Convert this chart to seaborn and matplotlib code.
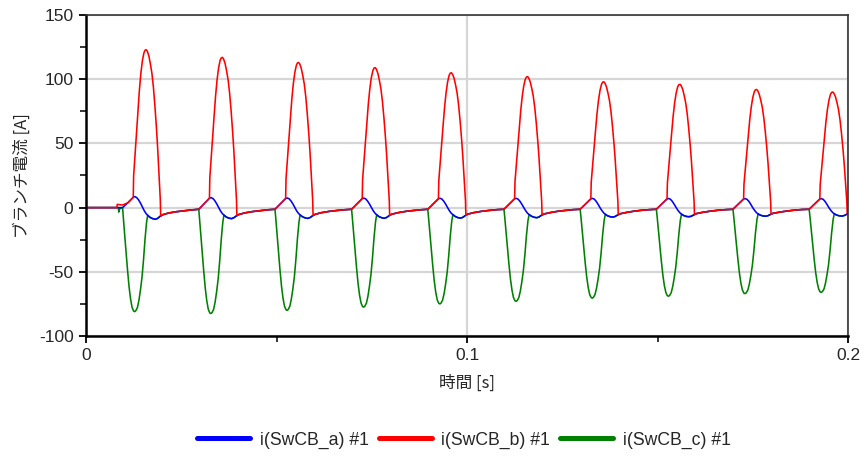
import numpy as np
import pandas as pd
import matplotlib
matplotlib.use("Agg")
import matplotlib.pyplot as plt
from matplotlib.lines import Line2D
from matplotlib.ticker import MultipleLocator
import seaborn as sns

# ---------------- data ----------------
# time in milliseconds, current in A
t_a_ms = [
    0.0, 8.2,
    9.6, 11.0, 12.4, 12.8, 13.3, 13.8, 14.3, 14.8, 15.3, 15.8, 16.2, 16.8, 17.5, 18.2, 18.8, 19.4, 20.1, 21.7, 23.7, 25.7, 27.7,
    29.6, 31.0, 32.4, 32.8, 33.3, 33.8, 34.3, 34.8, 35.3, 35.8, 36.2, 36.8, 37.5, 38.2, 38.8, 39.4, 40.1, 41.7, 43.7, 45.7, 47.7,
    49.6, 51.0, 52.4, 52.8, 53.3, 53.8, 54.3, 54.8, 55.3, 55.8, 56.2, 56.8, 57.5, 58.2, 58.8, 59.4, 60.1, 61.7, 63.7, 65.7, 67.7,
    69.7, 71.1, 72.5, 72.9, 73.4, 73.9, 74.4, 74.9, 75.4, 75.9, 76.3, 76.9, 77.6, 78.3, 78.9, 79.5, 80.2, 81.8, 83.8, 85.8, 87.8,
    89.7, 91.1, 92.5, 92.9, 93.4, 93.9, 94.4, 94.9, 95.4, 95.9, 96.3, 96.9, 97.6, 98.3, 98.9, 99.5, 100.2, 101.8, 103.8, 105.8, 107.8,
    109.7, 111.1, 112.5, 112.9, 113.4, 113.9, 114.4, 114.9, 115.4, 115.9, 116.3, 116.9, 117.6, 118.3, 118.9, 119.5, 120.2, 121.8, 123.8, 125.8, 127.8,
    129.7, 131.1, 132.5, 132.9, 133.4, 133.9, 134.4, 134.9, 135.4, 135.9, 136.3, 136.9, 137.6, 138.3, 138.9, 139.5, 140.2, 141.8, 143.8, 145.8, 147.8,
    149.7, 151.1, 152.5, 152.9, 153.4, 153.9, 154.4, 154.9, 155.4, 155.9, 156.3, 156.9, 157.6, 158.3, 158.9, 159.5, 160.2, 161.8, 163.8, 165.8, 167.8,
    169.8, 171.2, 172.6, 173.0, 173.5, 174.0, 174.5, 175.0, 175.5, 176.0, 176.4, 177.0, 177.7, 178.4, 179.0, 179.6, 180.3, 181.9, 183.9, 185.9, 187.9,
    189.8, 191.2, 192.6, 193.0, 193.5, 194.0, 194.5, 195.0, 195.5, 196.0, 196.4, 197.0, 197.7, 198.4, 199.0, 199.6, 200.3,
]
i_a = [
    0.0, 0.0,
    0.0, 3.8, 8.0, 8.6, 7.8, 6.0, 3.5, 0.5, -2.5, -4.8, -6.0, -7.6, -8.6, -9.1, -8.4, -6.9, -5.6, -4.2, -3.2, -2.5, -1.8,
    -1.3, 3.0, 7.3, 7.8, 7.1, 5.4, 3.0, 0.2, -2.6, -4.7, -5.8, -7.3, -8.2, -8.6, -7.9, -6.6, -5.4, -4.1, -3.1, -2.4, -1.7,
    -1.3, 2.9, 7.1, 7.5, 6.9, 5.2, 2.9, 0.1, -2.6, -4.6, -5.7, -7.1, -8.0, -8.4, -7.8, -6.5, -5.3, -4.0, -3.0, -2.3, -1.7,
    -1.3, 2.9, 7.0, 7.4, 6.8, 5.1, 2.8, 0.1, -2.5, -4.5, -5.6, -7.0, -7.9, -8.3, -7.7, -6.4, -5.2, -4.0, -3.0, -2.3, -1.7,
    -1.3, 2.8, 6.9, 7.3, 6.7, 5.0, 2.7, 0.0, -2.5, -4.5, -5.5, -6.9, -7.8, -8.2, -7.6, -6.3, -5.1, -3.9, -2.9, -2.2, -1.6,
    -1.3, 2.8, 6.9, 7.2, 6.6, 4.9, 2.6, 0.0, -2.4, -4.4, -5.4, -6.7, -7.5, -7.9, -7.3, -6.1, -5.0, -3.9, -2.9, -2.2, -1.6,
    -1.3, 2.8, 6.8, 7.2, 6.6, 4.9, 2.6, 0.0, -2.3, -4.2, -5.2, -6.4, -7.1, -7.4, -6.9, -5.8, -4.8, -3.8, -2.8, -2.1, -1.6,
    -1.3, 2.8, 6.8, 7.1, 6.5, 4.8, 2.5, 0.0, -2.3, -4.1, -5.1, -6.2, -6.9, -7.1, -6.7, -5.7, -4.7, -3.7, -2.8, -2.1, -1.6,
    -1.3, 2.7, 6.7, 7.0, 6.4, 4.8, 2.5, -0.1, -2.2, -4.0, -4.9, -5.9, -6.5, -6.7, -6.3, -5.4, -4.5, -3.6, -2.7, -2.0, -1.5,
    -1.3, 2.7, 6.7, 7.0, 6.4, 4.7, 2.4, -0.1, -2.2, -3.9, -4.8, -5.8, -6.4, -6.6, -6.2, -5.3, -4.5,
]

t_b_ms = [
    0.0, 8.1, 8.2,
    9.6, 11.0, 12.4, 12.5, 12.8, 13.2, 13.6, 14.0, 14.4, 14.8, 15.2, 15.5, 15.8, 16.1, 16.5, 16.9, 17.3, 17.7, 18.1, 18.5, 18.8, 19.1, 19.3, 19.5, 19.6, 20.1, 21.7, 23.7, 25.7, 27.7,
    29.6, 31.0, 32.4, 32.5, 32.8, 33.2, 33.6, 34.0, 34.4, 34.8, 35.2, 35.5, 35.8, 36.1, 36.5, 36.9, 37.3, 37.7, 38.1, 38.5, 38.8, 39.1, 39.3, 39.5, 39.6, 40.1, 41.7, 43.7, 45.7, 47.7,
    49.6, 51.0, 52.4, 52.5, 52.8, 53.2, 53.6, 54.0, 54.4, 54.8, 55.2, 55.5, 55.8, 56.1, 56.5, 56.9, 57.3, 57.7, 58.1, 58.5, 58.8, 59.1, 59.3, 59.5, 59.6, 60.1, 61.7, 63.7, 65.7, 67.7,
    69.7, 71.1, 72.5, 72.6, 72.9, 73.3, 73.7, 74.1, 74.5, 74.9, 75.3, 75.6, 75.9, 76.2, 76.6, 77.0, 77.4, 77.8, 78.2, 78.6, 78.9, 79.2, 79.4, 79.6, 79.7, 80.2, 81.8, 83.8, 85.8, 87.8,
    89.7, 91.1, 92.5, 92.6, 92.9, 93.3, 93.7, 94.1, 94.5, 94.9, 95.3, 95.6, 95.9, 96.2, 96.6, 97.0, 97.4, 97.8, 98.2, 98.6, 98.9, 99.2, 99.4, 99.6, 99.7, 100.2, 101.8, 103.8, 105.8, 107.8,
    109.7, 111.1, 112.5, 112.6, 112.9, 113.3, 113.7, 114.1, 114.5, 114.9, 115.3, 115.6, 115.9, 116.2, 116.6, 117.0, 117.4, 117.8, 118.2, 118.6, 118.9, 119.2, 119.4, 119.6, 119.7, 120.2, 121.8, 123.8, 125.8, 127.8,
    129.7, 131.1, 132.5, 132.6, 132.9, 133.3, 133.7, 134.1, 134.5, 134.9, 135.3, 135.6, 135.9, 136.2, 136.6, 137.0, 137.4, 137.8, 138.2, 138.6, 138.9, 139.2, 139.4, 139.6, 139.7, 140.2, 141.8, 143.8, 145.8, 147.8,
    149.7, 151.1, 152.5, 152.6, 152.9, 153.3, 153.7, 154.1, 154.5, 154.9, 155.3, 155.6, 155.9, 156.2, 156.6, 157.0, 157.4, 157.8, 158.2, 158.6, 158.9, 159.2, 159.4, 159.6, 159.7, 160.2, 161.8, 163.8, 165.8, 167.8,
    169.8, 171.2, 172.6, 172.7, 173.0, 173.4, 173.8, 174.2, 174.6, 175.0, 175.4, 175.7, 176.0, 176.3, 176.7, 177.1, 177.5, 177.9, 178.3, 178.7, 179.0, 179.3, 179.5, 179.7, 179.8, 180.3, 181.9, 183.9, 185.9, 187.9,
    189.8, 191.2, 192.6, 192.7, 193.0, 193.4, 193.8, 194.2, 194.6, 195.0, 195.4, 195.7, 196.0, 196.3, 196.7, 197.1, 197.5, 197.9, 198.3, 198.7, 199.0, 199.3, 199.5, 199.7, 199.8, 200.3,
]
i_b = [
    0.0, 0.0, 2.5,
    2.0, 3.8, 8.0, 24.6, 38.1, 55.4, 73.8, 91.0, 104.6, 114.4, 120.5, 122.6, 123.0, 121.8, 118.1, 111.9, 104.6, 93.5, 78.7, 61.5, 46.7, 29.5, 17.2, 6.2, -6.5, -5.6, -4.2, -3.2, -2.5, -1.8,
    -1.3, 3.0, 7.3, 23.4, 36.3, 52.7, 70.2, 86.6, 99.5, 108.8, 114.7, 116.6, 117.0, 115.8, 112.3, 106.5, 99.5, 88.9, 74.9, 58.5, 44.5, 28.1, 16.4, 5.9, -6.2, -5.4, -4.1, -3.1, -2.4, -1.7,
    -1.3, 2.9, 7.1, 22.6, 35.0, 50.9, 67.8, 83.6, 96.1, 105.1, 110.7, 112.7, 113.0, 111.9, 108.5, 102.8, 96.1, 85.9, 72.3, 56.5, 42.9, 27.1, 15.8, 5.7, -6.1, -5.3, -4.0, -3.0, -2.3, -1.7,
    -1.3, 2.9, 7.0, 21.8, 33.8, 49.1, 65.4, 80.7, 92.7, 101.4, 106.8, 108.7, 109.0, 107.9, 104.6, 99.2, 92.7, 82.8, 69.8, 54.5, 41.4, 26.2, 15.3, 5.5, -6.0, -5.2, -4.0, -3.0, -2.3, -1.7,
    -1.3, 2.8, 6.9, 21.0, 32.6, 47.3, 63.0, 77.7, 89.3, 97.7, 102.9, 104.7, 105.0, 104.0, 100.8, 95.6, 89.3, 79.8, 67.2, 52.5, 39.9, 25.2, 14.7, 5.3, -5.9, -5.1, -3.9, -2.9, -2.2, -1.6,
    -1.3, 2.8, 6.9, 20.4, 31.6, 45.9, 61.2, 75.5, 86.7, 94.9, 100.0, 101.7, 102.0, 101.0, 97.9, 92.8, 86.7, 77.5, 65.3, 51.0, 38.8, 24.5, 14.3, 5.1, -5.8, -5.0, -3.9, -2.9, -2.2, -1.6,
    -1.3, 2.8, 6.8, 19.6, 30.4, 44.1, 58.8, 72.5, 83.3, 91.1, 96.0, 97.7, 98.0, 97.0, 94.1, 89.2, 83.3, 74.5, 62.7, 49.0, 37.2, 23.5, 13.7, 4.9, -5.5, -4.8, -3.8, -2.8, -2.1, -1.6,
    -1.3, 2.8, 6.8, 19.2, 29.8, 43.2, 57.6, 71.0, 81.6, 89.3, 94.1, 95.7, 96.0, 95.0, 92.2, 87.4, 81.6, 73.0, 61.4, 48.0, 36.5, 23.0, 13.4, 4.8, -5.4, -4.7, -3.7, -2.8, -2.1, -1.6,
    -1.3, 2.7, 6.7, 18.4, 28.5, 41.4, 55.2, 68.1, 78.2, 85.6, 90.2, 91.7, 92.0, 91.1, 88.3, 83.7, 78.2, 69.9, 58.9, 46.0, 35.0, 22.1, 12.9, 4.6, -5.2, -4.5, -3.6, -2.7, -2.0, -1.5,
    -1.3, 2.7, 6.7, 18.0, 27.9, 40.5, 54.0, 66.6, 76.5, 83.7, 88.2, 89.7, 90.0, 89.1, 86.4, 81.9, 76.5, 68.4, 57.6, 45.0, 34.2, 21.6, 12.6, 4.5, -5.1, -4.5,
]

t_c_ms = [
    0.0, 8.5, 8.6, 8.8,
    9.6, 9.8, 10.1, 10.5, 10.9, 11.3, 11.7, 12.1, 12.5, 12.8, 13.1, 13.5, 13.9, 14.3, 14.7, 15.1, 15.5, 15.9, 16.2, 16.8, 17.5, 18.2, 18.8, 19.4, 20.1, 21.7, 23.7, 25.7, 27.7,
    29.6, 29.8, 30.1, 30.5, 30.9, 31.3, 31.7, 32.1, 32.5, 32.8, 33.1, 33.5, 33.9, 34.3, 34.7, 35.1, 35.5, 35.9, 36.2, 36.8, 37.5, 38.2, 38.8, 39.4, 40.1, 41.7, 43.7, 45.7, 47.7,
    49.6, 49.8, 50.1, 50.5, 50.9, 51.3, 51.7, 52.1, 52.5, 52.8, 53.1, 53.5, 53.9, 54.3, 54.7, 55.1, 55.5, 55.9, 56.2, 56.8, 57.5, 58.2, 58.8, 59.4, 60.1, 61.7, 63.7, 65.7, 67.7,
    69.7, 69.9, 70.2, 70.6, 71.0, 71.4, 71.8, 72.2, 72.6, 72.9, 73.2, 73.6, 74.0, 74.4, 74.8, 75.2, 75.6, 76.0, 76.3, 76.9, 77.6, 78.3, 78.9, 79.5, 80.2, 81.8, 83.8, 85.8, 87.8,
    89.7, 89.9, 90.2, 90.6, 91.0, 91.4, 91.8, 92.2, 92.6, 92.9, 93.2, 93.6, 94.0, 94.4, 94.8, 95.2, 95.6, 96.0, 96.3, 96.9, 97.6, 98.3, 98.9, 99.5, 100.2, 101.8, 103.8, 105.8, 107.8,
    109.7, 109.9, 110.2, 110.6, 111.0, 111.4, 111.8, 112.2, 112.6, 112.9, 113.2, 113.6, 114.0, 114.4, 114.8, 115.2, 115.6, 116.0, 116.3, 116.9, 117.6, 118.3, 118.9, 119.5, 120.2, 121.8, 123.8, 125.8, 127.8,
    129.7, 129.9, 130.2, 130.6, 131.0, 131.4, 131.8, 132.2, 132.6, 132.9, 133.2, 133.6, 134.0, 134.4, 134.8, 135.2, 135.6, 136.0, 136.3, 136.9, 137.6, 138.3, 138.9, 139.5, 140.2, 141.8, 143.8, 145.8, 147.8,
    149.7, 149.9, 150.2, 150.6, 151.0, 151.4, 151.8, 152.2, 152.6, 152.9, 153.2, 153.6, 154.0, 154.4, 154.8, 155.2, 155.6, 156.0, 156.3, 156.9, 157.6, 158.3, 158.9, 159.5, 160.2, 161.8, 163.8, 165.8, 167.8,
    169.8, 170.0, 170.3, 170.7, 171.1, 171.5, 171.9, 172.3, 172.7, 173.0, 173.3, 173.7, 174.1, 174.5, 174.9, 175.3, 175.7, 176.1, 176.4, 177.0, 177.7, 178.4, 179.0, 179.6, 180.3, 181.9, 183.9, 185.9, 187.9,
    189.8, 190.0, 190.3, 190.7, 191.1, 191.5, 191.9, 192.3, 192.7, 193.0, 193.3, 193.7, 194.1, 194.5, 194.9, 195.3, 195.7, 196.1, 196.4, 197.0, 197.7, 198.4, 199.0, 199.6, 200.3,
]
i_c = [
    0.0, 0.0, -3.5, -1.0,
    0.0, -8.1, -19.4, -34.0, -48.6, -61.6, -71.3, -77.8, -80.6, -81.0, -80.2, -77.8, -72.1, -64.0, -54.3, -40.5, -24.3, -11.3, -6.0, -7.6, -8.6, -9.1, -8.4, -6.9, -5.6, -4.2, -3.2, -2.5, -1.8,
    -1.3, -8.3, -19.8, -34.7, -49.5, -62.7, -72.6, -79.2, -82.1, -82.5, -81.7, -79.2, -73.4, -65.2, -55.3, -41.3, -24.8, -11.6, -5.8, -7.3, -8.2, -8.6, -7.9, -6.6, -5.4, -4.1, -3.1, -2.4, -1.7,
    -1.3, -8.0, -19.2, -33.6, -48.0, -60.8, -70.4, -76.8, -79.6, -80.0, -79.2, -76.8, -71.2, -63.2, -53.6, -40.0, -24.0, -11.2, -5.7, -7.1, -8.0, -8.4, -7.8, -6.5, -5.3, -4.0, -3.0, -2.3, -1.7,
    -1.3, -7.8, -18.6, -32.6, -46.5, -58.9, -68.2, -74.4, -77.1, -77.5, -76.7, -74.4, -69.0, -61.2, -51.9, -38.8, -23.3, -10.9, -5.6, -7.0, -7.9, -8.3, -7.7, -6.4, -5.2, -4.0, -3.0, -2.3, -1.7,
    -1.3, -7.5, -18.0, -31.5, -45.0, -57.0, -66.0, -72.0, -74.6, -75.0, -74.3, -72.0, -66.8, -59.3, -50.3, -37.5, -22.5, -10.5, -5.5, -6.9, -7.8, -8.2, -7.6, -6.3, -5.1, -3.9, -2.9, -2.2, -1.6,
    -1.3, -7.3, -17.5, -30.7, -43.8, -55.5, -64.2, -70.1, -72.6, -73.0, -72.3, -70.1, -65.0, -57.7, -48.9, -36.5, -21.9, -10.2, -5.4, -6.7, -7.5, -7.9, -7.3, -6.1, -5.0, -3.9, -2.9, -2.2, -1.6,
    -1.3, -7.1, -16.9, -29.6, -42.3, -53.6, -62.0, -67.7, -70.1, -70.5, -69.8, -67.7, -62.7, -55.7, -47.2, -35.3, -21.2, -9.9, -5.2, -6.4, -7.1, -7.4, -6.9, -5.8, -4.8, -3.8, -2.8, -2.1, -1.6,
    -1.3, -6.9, -16.6, -29.0, -41.4, -52.4, -60.7, -66.2, -68.7, -69.0, -68.3, -66.2, -61.4, -54.5, -46.2, -34.5, -20.7, -9.7, -5.1, -6.2, -6.9, -7.1, -6.7, -5.7, -4.7, -3.7, -2.8, -2.1, -1.6,
    -1.3, -6.7, -16.1, -28.1, -40.2, -50.9, -59.0, -64.3, -66.7, -67.0, -66.3, -64.3, -59.6, -52.9, -44.9, -33.5, -20.1, -9.4, -4.9, -5.9, -6.5, -6.7, -6.3, -5.4, -4.5, -3.6, -2.7, -2.0, -1.5,
    -1.3, -6.6, -15.8, -27.7, -39.6, -50.2, -58.1, -63.4, -65.7, -66.0, -65.3, -63.4, -58.7, -52.1, -44.2, -33.0, -19.8, -9.2, -4.8, -5.8, -6.4, -6.6, -6.2, -5.3, -4.5,
]

series_labels = ["i(SwCB_a) #1", "i(SwCB_b) #1", "i(SwCB_c) #1"]
series_colors = ["#0000ff", "#ff0000", "#008000"]
x_ticks = [0.0, 0.1, 0.2]
x_ticklabels = ["0", "0.1", "0.2"]
y_ticks = [-100, -50, 0, 50, 100, 150]
x_label = "時間 [s]"
y_label = "ブランチ電流 [A]"

# ---------------- style ----------------
sns.set_style("white")
plt.rcParams["font.family"] = ["Liberation Sans", "DejaVu Sans"]
plt.rcParams["axes.unicode_minus"] = False
cjk = ["Noto Sans CJK JP", "Liberation Sans", "DejaVu Sans"]

fig = plt.figure(figsize=(8.66, 4.59), dpi=100)
ax = fig.add_axes([86 / 866, 1 - 336 / 459, 762 / 866, 321 / 459])

frames = [
    pd.DataFrame({"t": np.array(t_a_ms) / 1000.0, "v": i_a}),
    pd.DataFrame({"t": np.array(t_b_ms) / 1000.0, "v": i_b}),
    pd.DataFrame({"t": np.array(t_c_ms) / 1000.0, "v": i_c}),
]
zorders = [2.3, 2.4, 2.2]
for df, col, z in zip(frames, series_colors, zorders):
    sns.lineplot(data=df, x="t", y="v", ax=ax, color=col, lw=1.15,
                 estimator=None, sort=False, zorder=z)

ax.set_xlim(0, 0.2)
ax.set_ylim(-100, 150)
ax.set_xticks(x_ticks)
ax.set_xticklabels(x_ticklabels)
ax.set_yticks(y_ticks)
ax.xaxis.set_minor_locator(MultipleLocator(0.05))
ax.yaxis.set_minor_locator(MultipleLocator(25))

ax.grid(True, which="major", color="#d6d6d6", lw=1.6)
ax.set_axisbelow(True)

ax.tick_params(axis="both", which="major", direction="out", length=5, width=1.3,
               color="black", labelsize=12.5, pad=4, left=True, bottom=True)
ax.tick_params(axis="both", which="minor", direction="out", length=4, width=1.1,
               color="black", left=True, bottom=True)

for side in ["left", "bottom"]:
    ax.spines[side].set_color("black")
    ax.spines[side].set_linewidth(1.8)
for side in ["top", "right"]:
    ax.spines[side].set_color("#333333")
    ax.spines[side].set_linewidth(1.2)
    ax.spines[side].set_visible(True)

ax.set_xlabel(x_label, fontsize=12, family=cjk)
ax.set_ylabel(y_label, fontsize=12, family=cjk)
ax.xaxis.set_label_coords(0.5, -0.12)
ax.yaxis.set_label_coords(-0.072, 0.5)

handles = [Line2D([0], [0], color=c, lw=3.6, solid_capstyle="round") for c in series_colors]
fig.legend(handles, series_labels, loc="center", bbox_to_anchor=(464 / 866, 1 - 440 / 459),
           ncol=3, frameon=False, fontsize=12.7, handlelength=3.0, handletextpad=0.55,
           columnspacing=0.55)

fig.savefig("out.png", dpi=100)
